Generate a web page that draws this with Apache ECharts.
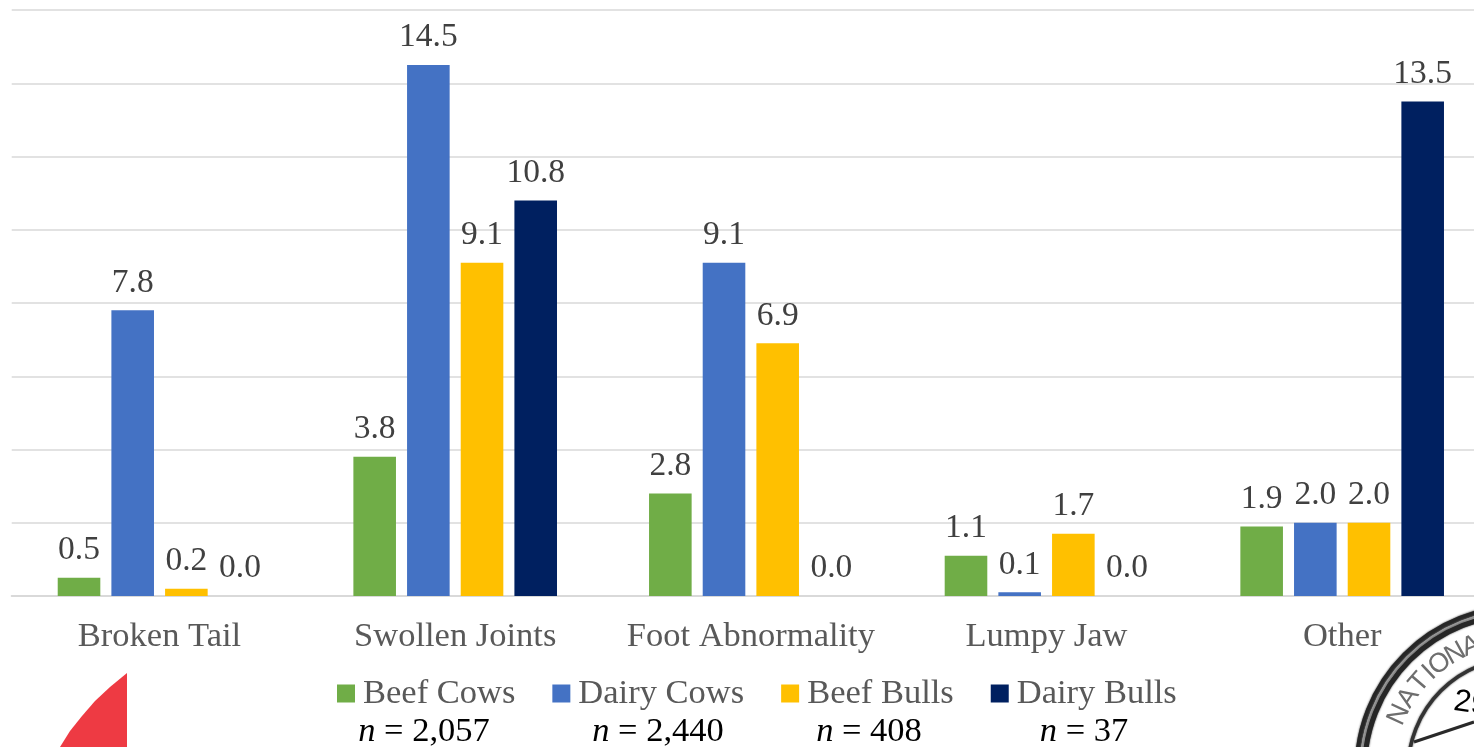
<!DOCTYPE html>
<html>
<head>
<meta charset="utf-8">
<style>html,body{margin:0;padding:0;background:#fff;overflow:hidden}#chart{width:1490px;height:747px}</style>
<script src="https://cdn.jsdelivr.net/npm/echarts@6/dist/echarts.min.js"></script>
</head>
<body>
<div id="chart"></div>
<script>
const categories = ['Broken Tail', 'Swollen Joints', 'Foot Abnormality', 'Lumpy Jaw', 'Other'];
const beefCows = [0.5, 3.8, 2.8, 1.1, 1.9];
const dairyCows = [7.8, 14.5, 9.1, 0.1, 2.0];
const beefBulls = [0.2, 9.1, 6.9, 1.7, 2.0];
const dairyBulls = [0.0, 10.8, 0.0, 0.0, 13.5];
const seriesNames = ['Beef Cows', 'Dairy Cows', 'Beef Bulls', 'Dairy Bulls'];
const seriesColors = ['#70AD47', '#4472C4', '#FFC000', '#002060'];
const groupSizes = ['2,057', '2,440', '408', '37'];
const sizeLabelCenters = [424, 658, 869, 1084];
const sealLetters = ['N', 'A', 'T', 'I', 'O', 'N', 'A', 'L'];
const sealLetterAngles = [24.5, 33, 41, 47, 53, 61, 68.5, 76];

const SERIF = '"Liberation Serif", "Times New Roman", serif';
const chart = echarts.init(document.getElementById('chart'), null, { renderer: 'canvas' });

function barSeries(name, values, color) {
  return {
    name, type: 'bar', data: values,
    barWidth: 42.6, barGap: '26%',
    itemStyle: { color },
    label: {
      show: true, position: 'top', distance: 10.5,
      fontFamily: SERIF, fontSize: 33.5, color: '#404040',
      formatter: p => p.value.toFixed(1)
    }
  };
}

// Partial round seal that runs off the lower right corner
const SEAL = { x: 1520, y: 770 };
function ring(r, lineWidth, stroke) {
  return {
    type: 'circle', silent: true,
    shape: { cx: SEAL.x, cy: SEAL.y, r },
    style: { fill: 'none', stroke, lineWidth, shadowBlur: 2, shadowColor: stroke }
  };
}
const sealRim = sealLetters.map((ch, i) => {
  const deg = sealLetterAngles[i];
  const a = deg * Math.PI / 180;
  return {
    type: 'text', silent: true,
    x: SEAL.x - 133 * Math.cos(a), y: SEAL.y - 133 * Math.sin(a),
    rotation: (90 - deg) * Math.PI / 180,
    style: {
      text: ch, fontFamily: '"Liberation Sans", sans-serif', fontSize: 27,
      fill: '#6e6e6e', align: 'center', verticalAlign: 'middle'
    }
  };
});

const sizeLabels = groupSizes.map((n, i) => ({
  type: 'text', silent: true,
  x: sizeLabelCenters[i], y: 732,
  style: {
    rich: {
      i: { fontFamily: SERIF, fontStyle: 'italic', fontSize: 34.5, fill: '#000' },
      r: { fontFamily: SERIF, fontSize: 34.5, fill: '#000' }
    },
    text: '{i|n}{r| = ' + n + '}',
    align: 'center', verticalAlign: 'middle'
  }
}));

chart.setOption({
  animation: false,
  backgroundColor: '#fff',
  grid: { left: 11.7, right: 0, top: 10, bottom: 151, containLabel: false },
  legend: {
    data: seriesNames, left: 332, top: 671,
    itemWidth: 18, itemHeight: 18, itemGap: 37, icon: 'rect',
    selectedMode: false,
    textStyle: { fontFamily: SERIF, fontSize: 34.5, color: '#595959', padding: [0, 0, 0, 3] }
  },
  xAxis: {
    type: 'category', data: categories,
    axisTick: { show: false },
    axisLine: { lineStyle: { color: '#d9d9d9', width: 2 } },
    axisLabel: { fontFamily: SERIF, fontSize: 34.5, color: '#595959', margin: 23, interval: 0 }
  },
  yAxis: {
    type: 'value', min: 0, max: 16, interval: 2,
    axisLine: { show: false }, axisTick: { show: false }, axisLabel: { show: false },
    splitLine: { lineStyle: { color: '#d9d9d9', width: 1.5 } }
  },
  series: [
    barSeries(seriesNames[0], beefCows, seriesColors[0]),
    barSeries(seriesNames[1], dairyCows, seriesColors[1]),
    barSeries(seriesNames[2], beefBulls, seriesColors[2]),
    barSeries(seriesNames[3], dairyBulls, seriesColors[3])
  ],
  graphic: [
    // Red corner of the emblem at the lower left
    {
      type: 'polygon', silent: true,
      shape: { points: [[127, 673], [110, 687], [95, 701], [82, 716], [70, 731], [60, 747], [127, 747]] },
      style: { fill: '#EE3A43' }
    },
    ring(163, 5, '#262626'),
    ring(159.5, 2, '#9a9a9a'),
    ring(155.5, 5, '#262626'),
    ring(112, 3.5, '#333333'),
    {
      type: 'line', silent: true,
      shape: { x1: 1414, y1: 742, x2: 1474, y2: 722 },
      style: { stroke: '#2a2a2a', lineWidth: 3 }
    },
    {
      type: 'text', silent: true, x: 1456, y: 686, rotation: -8 * Math.PI / 180,
      style: { text: '29', fontFamily: '"Liberation Sans", sans-serif', fontSize: 31, fill: '#000' }
    },
    ...sealRim,
    ...sizeLabels
  ]
});
</script>
</body>
</html>
